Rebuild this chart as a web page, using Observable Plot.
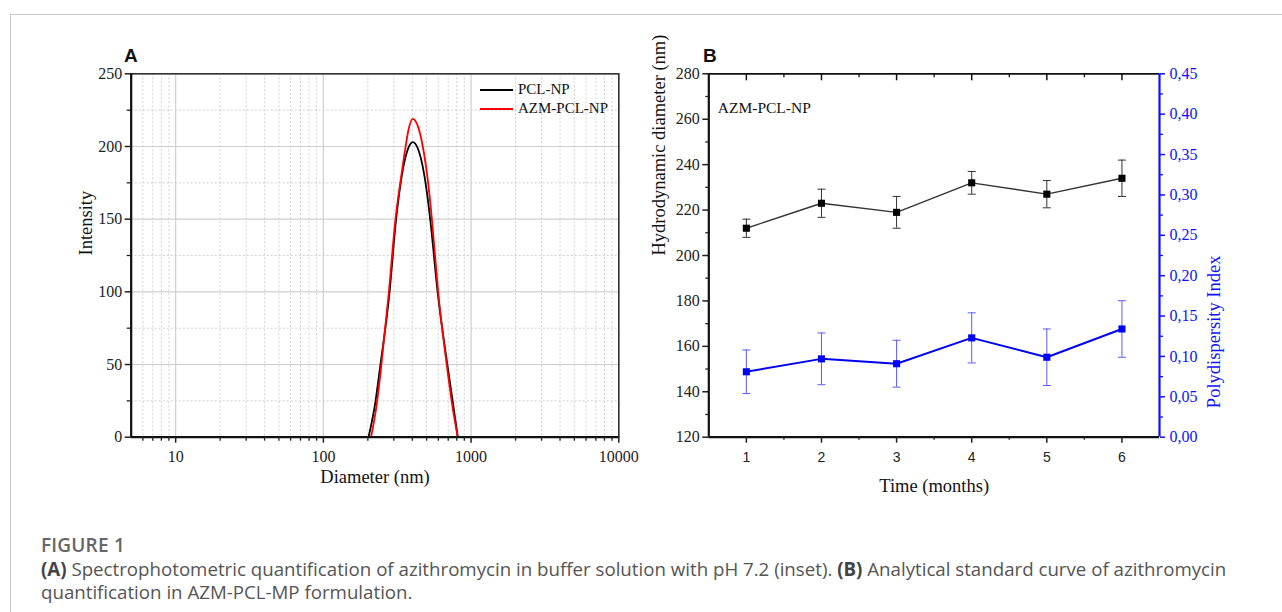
<!DOCTYPE html>
<html>
<head>
<meta charset="utf-8">
<script src="https://cdn.jsdelivr.net/npm/d3@7"></script>
<script src="https://cdn.jsdelivr.net/npm/@observablehq/plot@0.6"></script>
<style>
  html, body { margin: 0; padding: 0; background: #fff; }
  #page { position: relative; width: 1282px; height: 612px; overflow: hidden; background: #fff; }
  #border { position: absolute; left: 10px; top: 14px; width: 1400px; height: 700px; border-left: 1px solid #c8c8c8; border-top: 1px solid #c8c8c8; }
  .panel { position: absolute; top: 0; }
  .letter { position: absolute; font-family: "Liberation Sans", Arial, sans-serif; font-weight: bold; font-size: 19px; line-height: 19px; color: #111; }
  #legend { position: absolute; left: 480px; top: 80px; font-family: "Liberation Serif", "Times New Roman", serif; font-size: 15px; color: #111; }
  #legend .row { height: 19px; line-height: 19px; white-space: nowrap; }
  #legend .sw { display: inline-block; width: 33px; height: 0; border-top: 2px solid #000; vertical-align: middle; margin-right: 5px; position: relative; top: -1px; }
  #figlabel { position: absolute; left: 41px; top: 535px; font-family: "Open Sans", "Noto Sans", sans-serif; font-weight: 600; font-size: 19px; line-height: 21px; color: #666; letter-spacing: 0.2px; }
  #caption { position: absolute; left: 41px; top: 557px; width: 1240px; font-family: "Open Sans", "Noto Sans", sans-serif; font-size: 18.7px; line-height: 23px; color: #555; white-space: nowrap; }
  #caption b { font-weight: 700; color: #444; }
</style>
</head>
<body>
<div id="page">
  <div id="border"></div>
  <div class="panel" id="panelA" style="left:0px;width:660px;height:500px;"></div>
  <div class="panel" id="panelB" style="left:640px;width:642px;height:500px;"></div>
  <div class="panel" id="panelB2" style="left:640px;width:642px;height:500px;"></div>
  <div class="letter" style="left:124px;top:45.5px;">A</div>
  <div class="letter" style="left:703px;top:45.5px;">B</div>
  <div id="legend">
    <div class="row"><span class="sw" style="border-top-color:#000"></span>PCL-NP</div>
    <div class="row"><span class="sw" style="border-top-color:#ff0000"></span>AZM-PCL-NP</div>
  </div>
  <div id="figlabel">FIGURE 1</div>
  <div id="caption"><b>(A)</b> Spectrophotometric quantification of azithromycin in buffer solution with pH 7.2 (inset). <b>(B)</b> Analytical standard curve of azithromycin<br>quantification in AZM-PCL-MP formulation.</div>
</div>
<script>
// ---------- Panel A data ----------
const diamDomain = [5, 10000];
const intensDomain = [0, 250];
const diamTicks = [10, 100, 1000, 10000];
const diamMinor = [6, 7, 8, 9, 20, 30, 40, 50, 60, 70, 80, 90, 200, 300, 400, 500, 600, 700, 800, 900, 2000, 3000, 4000, 5000, 6000, 7000, 8000, 9000];
const intensTicks = [0, 50, 100, 150, 200, 250];
const intensMinor = [25, 75, 125, 175, 225];

const pclDiam = [202, 224, 242, 280, 310, 345, 373, 403, 436, 471, 509, 530, 595, 695, 755, 813];
const pclInt  = [0,   23,  48,  99,  149, 184, 198, 203, 198.6, 186, 164, 149, 99, 48, 23, 0];
const azmDiam = [210, 230, 246, 277, 307, 336, 363, 376, 403, 436, 471, 509, 544, 570, 600, 688, 743, 813];
const azmInt  = [0,   23,  48,  99,  149, 179, 202, 211, 219, 214, 200, 177, 149, 125, 99,  48,  23,  0];

// ---------- Panel B data ----------
const timeDomain = [0.5, 6.5];
const hdDomain = [120, 280];
const pdiDomain = [0, 0.45];
const months = [1, 2, 3, 4, 5, 6];
const halfMonths = [1.5, 2.5, 3.5, 4.5, 5.5];
const hdTicks = [120, 140, 160, 180, 200, 220, 240, 260, 280];
const hdMinor = [130, 150, 170, 190, 210, 230, 250, 270];
const pdiTicks = [0, 0.05, 0.10, 0.15, 0.20, 0.25, 0.30, 0.35, 0.40, 0.45];
const pdiMinor = [0.025, 0.075, 0.125, 0.175, 0.225, 0.275, 0.325, 0.375, 0.425];

const hdMean = [212, 223, 219, 232, 227, 234];
const hdErr  = [4, 6.2, 7, 5, 6, 8];
const pdiMean = [0.081, 0.097, 0.091, 0.123, 0.099, 0.134];
const pdiErr  = [0.027, 0.032, 0.029, 0.031, 0.035, 0.035];

// ---------- build tables ----------
const pcl = pclDiam.map((d, i) => ({d, v: pclInt[i]}));
const azm = azmDiam.map((d, i) => ({d, v: azmInt[i]}));
const hd = months.map((t, i) => ({t, v: hdMean[i], e: hdErr[i]}));
const pdi = months.map((t, i) => ({t, v: pdiMean[i], e: pdiErr[i]}));

const serif = "'Liberation Serif', 'Times New Roman', serif";
const sans = "'Liberation Sans', Arial, sans-serif";
const capSymbol = {draw(ctx, size) { const r = Math.sqrt(size / Math.PI); ctx.moveTo(-r, 0); ctx.lineTo(r, 0); }};

// Panel A
const mA = {left: 130.7, right: 41.7, top: 73.3, bottom: 63.3};
const plotA = Plot.plot({
  width: 660, height: 500,
  marginLeft: mA.left, marginRight: mA.right, marginTop: mA.top, marginBottom: mA.bottom,
  x: {type: "log", domain: diamDomain},
  y: {domain: intensDomain},
  style: {fontFamily: serif, fontSize: "16px", color: "#222", background: "transparent", overflow: "visible"},
  marks: [
    Plot.gridX(diamMinor, {stroke: "#c4c4c4", strokeOpacity: 1, strokeDasharray: "2,2", strokeWidth: 0.8}),
    Plot.gridY(intensMinor, {stroke: "#c4c4c4", strokeOpacity: 1, strokeDasharray: "2,2", strokeWidth: 0.8}),
    Plot.gridX(diamTicks, {stroke: "#cfcfcf", strokeOpacity: 1, strokeWidth: 1.2}),
    Plot.gridY(intensTicks, {stroke: "#cfcfcf", strokeOpacity: 1, strokeWidth: 1.2}),
    Plot.frame({stroke: "#333", strokeWidth: 1.6}),
    Plot.line(pcl, {x: "d", y: "v", stroke: "#000", strokeWidth: 1.8, curve: "monotone-x"}),
    Plot.line(azm, {x: "d", y: "v", stroke: "#ff0000", strokeWidth: 1.8, curve: "monotone-x"}),
    Plot.ruleX([diamDomain[0]], {stroke: "#111", strokeWidth: 2.2}),
    Plot.ruleY([intensDomain[0]], {stroke: "#111", strokeWidth: 2.2}),
    Plot.axisX(diamTicks, {tickSize: 6, tickPadding: 7, tickFormat: d => String(d), label: null, strokeWidth: 1.5}),
    Plot.axisX(diamMinor, {tickSize: 4, tickFormat: () => "", label: null, strokeWidth: 1.3}),
    Plot.axisY(intensTicks, {tickSize: 6, tickPadding: 3, label: null, strokeWidth: 1.5}),
    Plot.axisY(intensMinor, {tickSize: 4, tickFormat: () => "", label: null, strokeWidth: 1.3}),
    Plot.text(["Intensity"], {frameAnchor: "left", rotate: -90, dx: -45, text: d => d, fontSize: 18.5, fill: "#111"}),
    Plot.text(["Diameter (nm)"], {frameAnchor: "bottom", dy: 46, text: d => d, fontSize: 18.5, fill: "#111"})
  ]
});
document.getElementById("panelA").appendChild(plotA);

// Panel B (left axis: hydrodynamic diameter)
const mB = {left: 68.3, right: 123, top: 73.3, bottom: 63.3};
const plotHB = 500 - mB.top - mB.bottom;
const plotB = Plot.plot({
  width: 642, height: 500,
  marginLeft: mB.left, marginRight: mB.right, marginTop: mB.top, marginBottom: mB.bottom,
  x: {domain: timeDomain},
  y: {domain: hdDomain},
  style: {fontFamily: serif, fontSize: "16px", color: "#222", background: "transparent", overflow: "visible"},
  marks: [
    Plot.ruleY([hdDomain[1]], {stroke: "#111", strokeWidth: 1.8}),
    Plot.ruleX([timeDomain[0]], {stroke: "#111", strokeWidth: 2.2}),
    Plot.ruleY([hdDomain[0]], {stroke: "#111", strokeWidth: 2.2}),
    Plot.tickX(months, {x: d => d, insetBottom: plotHB - 7, stroke: "#111", strokeWidth: 1.5}),
    Plot.tickX(halfMonths, {x: d => d, insetBottom: plotHB - 4, stroke: "#111", strokeWidth: 1.3}),
    Plot.axisX(months, {tickSize: 6, tickPadding: 9, fontFamily: sans, fontSize: 14, label: null, strokeWidth: 1.5}),
    Plot.axisX(halfMonths, {tickSize: 3, tickFormat: () => "", label: null, strokeWidth: 1.3}),
    Plot.axisY(hdTicks, {tickSize: 6, tickPadding: 3, label: null, strokeWidth: 1.5}),
    Plot.axisY(hdMinor, {tickSize: 3, tickFormat: () => "", label: null, strokeWidth: 1.3}),
    Plot.text(["Hydrodynamic diameter (nm)"], {frameAnchor: "left", rotate: -90, dx: -50, text: d => d, fontSize: 18.5, fill: "#111"}),
    Plot.text(["Time (months)"], {frameAnchor: "bottom", dy: 55, text: d => d, fontSize: 18.5, fill: "#111"}),
    Plot.text(["AZM-PCL-NP"], {frameAnchor: "top-left", dx: 9, dy: 28, textAnchor: "start", text: d => d, fontSize: 15.5, fill: "#111"}),
    Plot.line(hd, {x: "t", y: "v", stroke: "#333", strokeWidth: 1.4}),
    Plot.ruleX(hd, {x: "t", y1: d => d.v - d.e, y2: d => d.v + d.e, stroke: "#333", strokeWidth: 1}),
    Plot.dot(hd, {x: "t", y: d => d.v + d.e, symbol: capSymbol, r: 4, stroke: "#333", fill: "none", strokeWidth: 1}),
    Plot.dot(hd, {x: "t", y: d => d.v - d.e, symbol: capSymbol, r: 4, stroke: "#333", fill: "none", strokeWidth: 1}),
    Plot.dot(hd, {x: "t", y: "v", symbol: "square", r: 4, fill: "#000", stroke: "none"})
  ]
});
document.getElementById("panelB").appendChild(plotB);

// Panel B overlay (right axis: polydispersity index)
const blue = "#1010ff";
const plotB2 = Plot.plot({
  width: 642, height: 500,
  marginLeft: mB.left, marginRight: mB.right, marginTop: mB.top, marginBottom: mB.bottom,
  x: {domain: timeDomain, axis: null},
  y: {domain: pdiDomain},
  style: {fontFamily: serif, fontSize: "16px", color: blue, background: "transparent", overflow: "visible"},
  marks: [
    Plot.ruleX([timeDomain[1]], {stroke: blue, strokeWidth: 2.2}),
    Plot.axisY(pdiTicks, {anchor: "right", tickSize: 5, tickPadding: 5, tickFormat: d => d.toFixed(2).replace(".", ","), label: null, strokeWidth: 1.5}),
    Plot.axisY(pdiMinor, {anchor: "right", tickSize: 3, tickFormat: () => "", label: null, strokeWidth: 1.3}),
    Plot.text(["Polydispersity Index"], {frameAnchor: "right", rotate: -90, dx: 55, text: d => d, fontSize: 18.5, fill: blue}),
    Plot.line(pdi, {x: "t", y: "v", stroke: "#0000f0", strokeWidth: 2}),
    Plot.ruleX(pdi, {x: "t", y1: d => d.v - d.e, y2: d => d.v + d.e, stroke: "#5b5bff", strokeWidth: 1}),
    Plot.dot(pdi, {x: "t", y: d => d.v + d.e, symbol: capSymbol, r: 4, stroke: "#5b5bff", fill: "none", strokeWidth: 1}),
    Plot.dot(pdi, {x: "t", y: d => d.v - d.e, symbol: capSymbol, r: 4, stroke: "#5b5bff", fill: "none", strokeWidth: 1}),
    Plot.dot(pdi, {x: "t", y: "v", symbol: "square", r: 4, fill: "#0000ff", stroke: "none"})
  ]
});
document.getElementById("panelB2").appendChild(plotB2);
</script>
</body>
</html>
